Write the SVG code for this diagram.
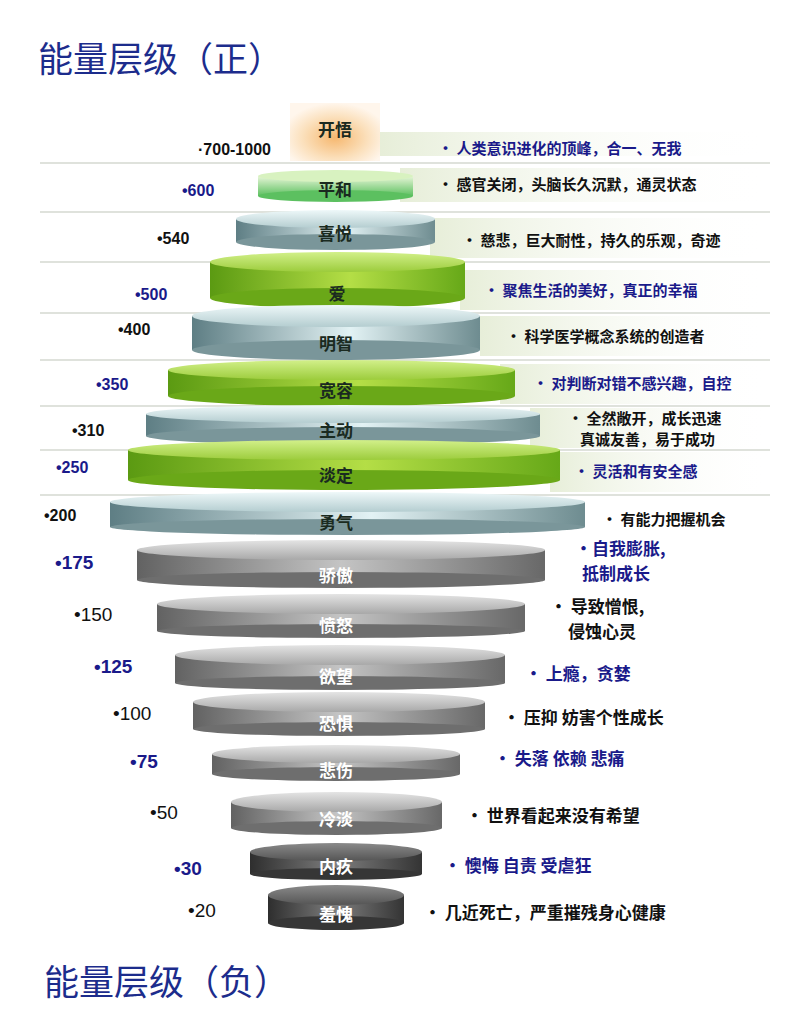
<svg xmlns="http://www.w3.org/2000/svg" width="785" height="1032" viewBox="0 0 785 1032">
<defs>
<linearGradient id="gs" x1="0" x2="1" y1="0" y2="0"><stop offset="0" stop-color="#5b9a12"/><stop offset="0.55" stop-color="#b4de46"/><stop offset="1" stop-color="#66a818"/></linearGradient>
<linearGradient id="gt" x1="0" x2="0" y1="0" y2="1"><stop offset="0" stop-color="#d2f08a"/><stop offset="1" stop-color="#9ccc3c"/></linearGradient>
<linearGradient id="ts" x1="0" x2="1" y1="0" y2="0"><stop offset="0" stop-color="#5e7e84"/><stop offset="0.55" stop-color="#e2f2f4"/><stop offset="1" stop-color="#6e8c90"/></linearGradient>
<linearGradient id="tt" x1="0" x2="0" y1="0" y2="1"><stop offset="0" stop-color="#eef8f9"/><stop offset="1" stop-color="#b4cdd0"/></linearGradient>
<linearGradient id="ps" x1="0" x2="0" y1="0" y2="1"><stop offset="0" stop-color="#e8f6d8"/><stop offset="1" stop-color="#5cc060"/></linearGradient>
<linearGradient id="ks" x1="0" x2="1" y1="0" y2="0"><stop offset="0" stop-color="#626262"/><stop offset="0.5" stop-color="#c4c4c4"/><stop offset="1" stop-color="#686868"/></linearGradient>
<linearGradient id="kt" x1="0" x2="0" y1="0" y2="1"><stop offset="0" stop-color="#e4e4e4"/><stop offset="1" stop-color="#a8a8a8"/></linearGradient>
<linearGradient id="ds" x1="0" x2="1" y1="0" y2="0"><stop offset="0" stop-color="#2e2e2e"/><stop offset="0.5" stop-color="#7e7e7e"/><stop offset="1" stop-color="#343434"/></linearGradient>
<linearGradient id="dt" x1="0" x2="0" y1="0" y2="1"><stop offset="0" stop-color="#8a8a8a"/><stop offset="1" stop-color="#555"/></linearGradient>
<linearGradient id="band" x1="0" x2="1" y1="0" y2="0"><stop offset="0" stop-color="#e4ecd4" stop-opacity="0.9"/><stop offset="1" stop-color="#ffffff" stop-opacity="0"/></linearGradient>
<radialGradient id="glow" cx="0.5" cy="0.6" r="0.6"><stop offset="0" stop-color="#f6b870"/><stop offset="0.6" stop-color="#fbe0bc"/><stop offset="1" stop-color="#fff6ec"/></radialGradient>
<style>
text{font-family:"Noto Sans CJK SC","Liberation Sans",sans-serif;}
.title{font-size:35px;fill:#1c2c8c;font-family:"Noto Sans CJK SC",serif;}
.lab{font-size:17px;font-weight:bold;text-anchor:middle;fill:#1a2a20;}
.nlab{font-size:17px;font-weight:bold;text-anchor:middle;fill:#ffffff;}
.v{font-size:16px;font-weight:bold;fill:#111;font-family:"Liberation Sans",sans-serif;}
.vb{font-size:16px;font-weight:bold;fill:#1a1a8a;font-family:"Liberation Sans",sans-serif;}
.vn{font-size:19px;fill:#111;font-family:"Liberation Sans",sans-serif;}
.vnb{font-size:19px;font-weight:bold;fill:#1a1a8a;font-family:"Liberation Sans",sans-serif;}
.d{font-size:15px;font-weight:bold;fill:#111;}
.db{font-size:15px;font-weight:bold;fill:#1a1a8a;}
.dn{font-size:17px;font-weight:bold;fill:#111;}
.dnb{font-size:17px;font-weight:bold;fill:#1a1a8a;}
.ln{stroke:#d4d8d0;stroke-width:1.5;}
</style>
</defs>
<rect width="785" height="1032" fill="#ffffff"/>
<text class="title" x="38" y="72">能量层级（正）</text>
<text class="title" x="44" y="995">能量层级（负）</text>
<g id="bands">
<rect x="380" y="132" width="390" height="24" fill="url(#band)"/>
<rect x="400" y="168" width="370" height="34" fill="url(#band)"/>
<rect x="430" y="218" width="340" height="40" fill="url(#band)"/>
<rect x="460" y="270" width="310" height="40" fill="url(#band)"/>
<rect x="480" y="316" width="290" height="40" fill="url(#band)"/>
<rect x="500" y="364" width="270" height="40" fill="url(#band)"/>
<rect x="530" y="408" width="240" height="40" fill="url(#band)"/>
<rect x="550" y="452" width="220" height="40" fill="url(#band)"/>
<line class="ln" x1="40" y1="163" x2="770" y2="163"/>
<line class="ln" x1="40" y1="212" x2="770" y2="212"/>
<line class="ln" x1="40" y1="262" x2="770" y2="262"/>
<line class="ln" x1="40" y1="313" x2="770" y2="313"/>
<line class="ln" x1="40" y1="360" x2="770" y2="360"/>
<line class="ln" x1="40" y1="406" x2="770" y2="406"/>
<line class="ln" x1="40" y1="450" x2="770" y2="450"/>
<line class="ln" x1="40" y1="495" x2="770" y2="495"/>
</g>
<g id="n-kaiwu"><rect x="290" y="103" width="90" height="58" fill="url(#glow)"/><text class="lab" x="335" y="136">开悟</text></g>
<g id="n-pinghe"><rect x="258" y="176" width="155" height="20" fill="url(#ps)"/><ellipse cx="335.5" cy="196" rx="77.5" ry="6" fill="#5cc060"/><ellipse cx="335.5" cy="176" rx="77.5" ry="6" fill="#d8f2c0"/><text class="lab" x="335" y="196">平和</text></g>
<g id="n-xiyue"><rect x="236" y="219" width="199" height="23" fill="url(#ts)"/><ellipse cx="335.5" cy="242" rx="99.5" ry="8" fill="#7a969a"/><ellipse cx="335.5" cy="219" rx="99.5" ry="9" fill="url(#tt)"/><text class="lab" x="335" y="240">喜悦</text></g>
<g id="n-ai"><rect x="210" y="262" width="255" height="36" fill="url(#gs)"/><ellipse cx="337.5" cy="298" rx="127.5" ry="10" fill="#6aa818"/><ellipse cx="337.5" cy="262" rx="127.5" ry="10" fill="url(#gt)"/><text class="lab" x="337" y="300">爱</text></g>
<g id="n-mingzhi"><rect x="192" y="316" width="288" height="34" fill="url(#ts)"/><ellipse cx="336" cy="350" rx="144" ry="10" fill="#7a969a"/><ellipse cx="336" cy="316" rx="144" ry="11" fill="url(#tt)"/><text class="lab" x="336" y="350">明智</text></g>
<g id="n-kuanrong"><rect x="168" y="370" width="347" height="26" fill="url(#gs)"/><ellipse cx="341.5" cy="396" rx="173.5" ry="10" fill="#6aa818"/><ellipse cx="341.5" cy="370" rx="173.5" ry="10" fill="url(#gt)"/><text class="lab" x="336" y="397">宽容</text></g>
<g id="n-zhudong"><rect x="146" y="414" width="394" height="22" fill="url(#ts)"/><ellipse cx="343" cy="436" rx="197" ry="9" fill="#7a969a"/><ellipse cx="343" cy="414" rx="197" ry="9" fill="url(#tt)"/><text class="lab" x="336" y="437">主动</text></g>
<g id="n-danding"><rect x="128" y="450" width="432" height="30" fill="url(#gs)"/><ellipse cx="344" cy="480" rx="216" ry="10" fill="#6aa818"/><ellipse cx="344" cy="450" rx="216" ry="10" fill="url(#gt)"/><text class="lab" x="336" y="482">淡定</text></g>
<g id="n-yongqi"><rect x="110" y="502" width="475" height="25" fill="url(#ts)"/><ellipse cx="347.5" cy="527" rx="237.5" ry="8" fill="#7a969a"/><ellipse cx="347.5" cy="502" rx="237.5" ry="10" fill="url(#tt)"/><text class="lab" x="336" y="529">勇气</text></g>
<g id="n-jiaoao"><rect x="137" y="550" width="408" height="30" fill="url(#ks)"/><ellipse cx="341" cy="580" rx="204" ry="8" fill="#6e6e6e"/><ellipse cx="341" cy="550" rx="204" ry="10" fill="url(#kt)"/><text class="nlab" x="336" y="582">骄傲</text></g>
<g id="n-fennu"><rect x="157" y="604" width="368" height="27" fill="url(#ks)"/><ellipse cx="341" cy="631" rx="184" ry="7" fill="#6e6e6e"/><ellipse cx="341" cy="604" rx="184" ry="10" fill="url(#kt)"/><text class="nlab" x="336" y="632">愤怒</text></g>
<g id="n-yuwang"><rect x="175" y="655" width="330" height="28" fill="url(#ks)"/><ellipse cx="340" cy="683" rx="165" ry="7" fill="#6e6e6e"/><ellipse cx="340" cy="655" rx="165" ry="10" fill="url(#kt)"/><text class="nlab" x="336" y="683">欲望</text></g>
<g id="n-kongju"><rect x="193" y="702" width="292" height="27" fill="url(#ks)"/><ellipse cx="339" cy="729" rx="146" ry="7" fill="#6e6e6e"/><ellipse cx="339" cy="702" rx="146" ry="10" fill="url(#kt)"/><text class="nlab" x="336" y="730">恐惧</text></g>
<g id="n-beishang"><rect x="212" y="754" width="248" height="20" fill="url(#ks)"/><ellipse cx="336" cy="774" rx="124" ry="7" fill="#6e6e6e"/><ellipse cx="336" cy="754" rx="124" ry="9" fill="url(#kt)"/><text class="nlab" x="336" y="777">悲伤</text></g>
<g id="n-lengdan"><rect x="231" y="802" width="211" height="26" fill="url(#ks)"/><ellipse cx="336.5" cy="828" rx="105.5" ry="7" fill="#6e6e6e"/><ellipse cx="336.5" cy="802" rx="105.5" ry="10" fill="url(#kt)"/><text class="nlab" x="336" y="826">冷淡</text></g>
<g id="n-neijiu"><rect x="250" y="852" width="172" height="22" fill="url(#ds)"/><ellipse cx="336" cy="874" rx="86" ry="6" fill="#363636"/><ellipse cx="336" cy="852" rx="86" ry="9" fill="url(#dt)"/><text class="nlab" x="336" y="873">内疚</text></g>
<g id="n-xiukui"><rect x="268" y="895" width="136" height="28" fill="url(#ds)"/><ellipse cx="336" cy="923" rx="68" ry="7" fill="#363636"/><ellipse cx="336" cy="895" rx="68" ry="10" fill="url(#dt)"/><text class="nlab" x="336" y="921">羞愧</text></g>
<g id="values">
<text class="v" x="198" y="155">·700-1000</text>
<text class="vb" x="182" y="196">•600</text>
<text class="v" x="157" y="244">•540</text>
<text class="vb" x="135" y="300">•500</text>
<text class="v" x="118" y="335">•400</text>
<text class="vb" x="96" y="390">•350</text>
<text class="v" x="72" y="436">•310</text>
<text class="vb" x="56" y="473">•250</text>
<text class="v" x="44" y="521">•200</text>
<text class="vnb" x="55" y="569">•175</text>
<text class="vn" x="74" y="621">•150</text>
<text class="vnb" x="94" y="673">•125</text>
<text class="vn" x="113" y="720">•100</text>
<text class="vnb" x="130" y="768">•75</text>
<text class="vn" x="150" y="819">•50</text>
<text class="vnb" x="174" y="875">•30</text>
<text class="vn" x="188" y="917">•20</text>
</g>
<g id="descs">
<text class="db" x="438" y="154">• 人类意识进化的顶峰，合一、无我</text>
<text class="d" x="438" y="190">• 感官关闭，头脑长久沉默，通灵状态</text>
<text class="d" x="462" y="246">• 慈悲，巨大耐性，持久的乐观，奇迹</text>
<text class="db" x="484" y="296">• 聚焦生活的美好，真正的幸福</text>
<text class="d" x="506" y="342">• 科学医学概念系统的创造者</text>
<text class="db" x="533" y="389">• 对判断对错不感兴趣，自控</text>
<text class="d" x="568" y="424">• 全然敞开，成长迅速</text>
<text class="d" x="580" y="445">真诚友善，易于成功</text>
<text class="db" x="574" y="477">• 灵活和有安全感</text>
<text class="d" x="602" y="525">• 有能力把握机会</text>
<text class="dnb" x="575" y="555">•自我膨胀,</text>
<text class="dnb" x="582" y="580">抵制成长</text>
<text class="dn" x="550" y="613">• 导致憎恨,</text>
<text class="dn" x="568" y="638">侵蚀心灵</text>
<text class="dnb" x="525" y="680">• 上瘾，贪婪</text>
<text class="dn" x="503" y="724">• 压抑 妨害个性成长</text>
<text class="dnb" x="494" y="765">• 失落 依赖 悲痛</text>
<text class="dn" x="466" y="822">• 世界看起来没有希望</text>
<text class="dnb" x="444" y="872">• 懊悔 自责 受虐狂</text>
<text class="dn" x="424" y="919">• 几近死亡，严重摧残身心健康</text>
</g>
</svg>
